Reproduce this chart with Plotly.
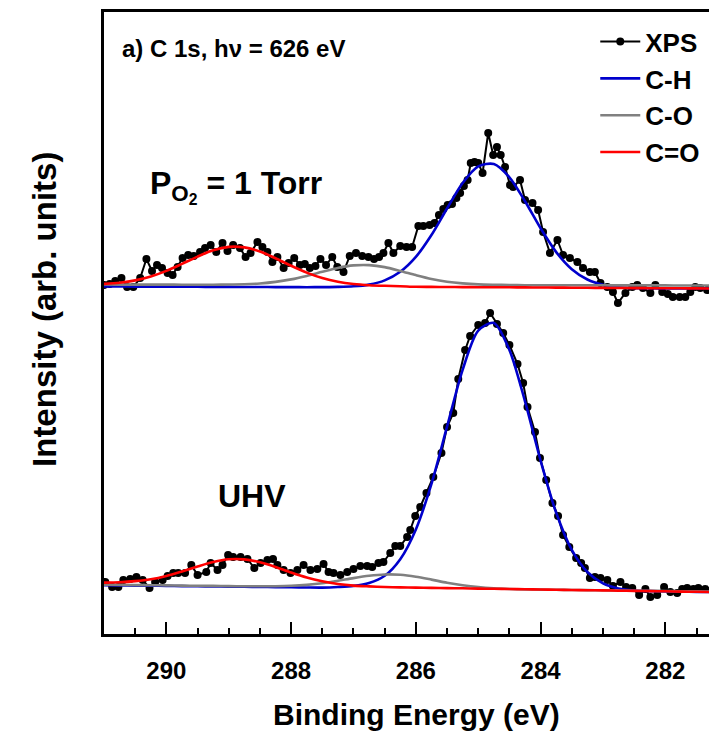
import plotly.graph_objects as go

# ---------------- data (binding energy in eV, intensity in arb. units) ----------------
upper_energy = [291.0, 290.91, 290.82, 290.72, 290.63, 290.53, 290.42, 290.32, 290.23, 290.15,
                290.07, 289.98, 289.90, 289.82, 289.74, 289.65, 289.56, 289.46, 289.38, 289.29,
                289.20, 289.10, 289.02, 288.93, 288.82, 288.73, 288.65, 288.54, 288.46, 288.38,
                288.30, 288.22, 288.12, 288.04, 287.95, 287.86, 287.78, 287.70, 287.61, 287.53,
                287.44, 287.34, 287.26, 287.16, 287.06, 286.96, 286.86, 286.76, 286.67, 286.59,
                286.52, 286.44, 286.36, 286.25, 286.15, 286.06, 285.96, 285.88, 285.78, 285.70,
                285.63, 285.56, 285.49, 285.42, 285.35, 285.29, 285.23, 285.17, 285.12, 285.06,
                285.00, 284.93, 284.84, 284.76, 284.70, 284.64, 284.57, 284.49, 284.44, 284.33,
                284.25, 284.13, 284.04, 283.96, 283.85, 283.73, 283.64, 283.53, 283.41, 283.32,
                283.21, 283.13, 283.04, 282.93, 282.84, 282.76, 282.64, 282.53, 282.45, 282.36,
                282.24, 282.16, 282.05, 281.96, 281.88, 281.77, 281.68, 281.60, 281.52, 281.44,
                281.33]
upper_intensity = [34.9, 35.0, 35.3, 35.6, 34.7, 34.7, 35.6, 37.5, 36.3, 36.9,
                   36.6, 36.1, 35.9, 36.7, 37.6, 37.9, 37.8, 38.2, 38.6, 38.9,
                   38.2, 39.1, 38.3, 38.9, 38.6, 37.7, 38.1, 39.2, 38.7, 38.2,
                   37.2, 37.7, 36.6, 37.1, 37.6, 36.9, 37.0, 36.6, 36.8, 37.5,
                   36.9, 37.7, 36.7, 36.2, 37.8, 38.1, 37.8, 37.7, 37.5, 37.7,
                   38.1, 39.1, 38.1, 38.8, 38.7, 38.7, 40.8, 40.8, 40.9, 41.1,
                   41.9, 42.5, 42.9, 43.0, 43.6, 44.1, 44.8, 45.4, 47.1, 47.2,
                   47.1, 46.1, 50.1, 47.9, 48.7, 47.9, 46.7, 44.9, 44.7, 45.4,
                   43.4, 43.1, 42.4, 40.2, 38.1, 39.4, 37.9, 37.6, 37.2, 36.6,
                   36.2, 36.2, 35.1, 34.7, 34.2, 33.1, 34.1, 34.7, 34.9, 34.6,
                   34.1, 34.9, 34.2, 34.0, 33.7, 33.7, 33.7, 34.2, 34.7, 34.6,
                   34.4]

lower_energy = [290.98, 290.87, 290.77, 290.69, 290.58, 290.48, 290.38, 290.27, 290.18, 290.06,
                289.98, 289.89, 289.81, 289.70, 289.60, 289.50, 289.36, 289.29, 289.18, 289.10,
                289.01, 288.93, 288.81, 288.70, 288.59, 288.49, 288.38, 288.29, 288.22, 288.12,
                288.01, 287.90, 287.80, 287.69, 287.58, 287.48, 287.40, 287.32, 287.21, 287.10,
                287.00, 286.89, 286.78, 286.70, 286.60, 286.52, 286.41, 286.33, 286.25, 286.14,
                286.09, 286.01, 285.93, 285.83, 285.72, 285.59, 285.50, 285.40, 285.32, 285.21,
                285.13, 285.00, 284.89, 284.81, 284.70, 284.60, 284.50, 284.37, 284.28, 284.21,
                284.09, 284.01, 283.91, 283.81, 283.72, 283.64, 283.54, 283.43, 283.35, 283.29,
                283.21, 283.13, 283.04, 282.93, 282.84, 282.72, 282.63, 282.53, 282.42, 282.32,
                282.24, 282.13, 282.02, 281.92, 281.81, 281.73, 281.65, 281.55, 281.47, 281.36]
lower_intensity = [5.2, 4.7, 4.7, 5.4, 5.5, 5.7, 5.4, 4.6, 5.2, 5.4,
                   5.8, 6.1, 6.1, 6.1, 6.9, 5.9, 6.2, 7.1, 6.4, 6.9,
                   7.9, 7.7, 7.7, 7.5, 6.6, 7.1, 7.4, 7.5, 6.9, 6.4,
                   6.1, 6.4, 6.9, 6.4, 6.5, 7.0, 6.2, 6.1, 5.9, 6.2,
                   6.5, 6.8, 6.8, 6.7, 7.1, 7.2, 8.1, 8.8, 8.8, 9.7,
                   10.4, 11.8, 12.7, 14.1, 15.7, 18.1, 20.7, 22.1, 25.5, 28.4,
                   29.8, 30.9, 31.1, 32.1, 31.0, 30.1, 28.9, 27.0, 25.1, 22.7,
                   20.2, 17.6, 15.4, 13.1, 11.8, 9.9, 8.7, 7.6, 7.1, 6.6,
                   5.6, 5.7, 5.6, 5.4, 4.8, 5.2, 4.7, 4.6, 3.9, 4.5,
                   3.7, 3.9, 4.7, 4.2, 4.1, 4.5, 4.6, 4.5, 4.6, 4.5]

fit_energy = [291.0, 290.75, 290.5, 290.25, 290.0, 289.75, 289.5, 289.25, 289.0, 288.75,
              288.5, 288.25, 288.0, 287.75, 287.5, 287.25, 287.0, 286.75, 286.5, 286.25,
              286.0, 285.75, 285.5, 285.25, 285.0, 284.75, 284.5, 284.25, 284.0, 283.75,
              283.5, 283.25, 283.0, 282.75, 282.5, 282.25, 282.0, 281.75, 281.5, 281.25]

upper_ch = [34.75, 34.75, 34.74, 34.74, 34.73, 34.72, 34.72, 34.71, 34.71, 34.70,
            34.70, 34.69, 34.69, 34.68, 34.69, 34.71, 34.77, 34.94, 35.36, 36.22,
            37.71, 39.90, 42.55, 45.10, 46.77, 47.00, 45.67, 43.28, 40.57, 38.19,
            36.48, 35.45, 34.92, 34.68, 34.59, 34.57, 34.56, 34.56, 34.55, 34.55]
upper_co = [34.95, 34.94, 34.94, 34.94, 34.94, 34.93, 34.93, 34.93, 34.95, 34.97,
            35.05, 35.21, 35.46, 35.81, 36.22, 36.61, 36.86, 36.89, 36.69, 36.31,
            35.89, 35.51, 35.23, 35.06, 34.96, 34.92, 34.90, 34.88, 34.88, 34.87,
            34.87, 34.87, 34.87, 34.86, 34.86, 34.86, 34.86, 34.85, 34.85, 34.85]
upper_cdo = [35.01, 35.13, 35.36, 35.75, 36.31, 37.01, 37.74, 38.37, 38.71, 38.66,
             38.25, 37.58, 36.83, 36.14, 35.59, 35.22, 35.00, 34.88, 34.82, 34.78,
             34.72, 34.71, 34.70, 34.69, 34.68, 34.67, 34.67, 34.66, 34.65, 34.64,
             34.63, 34.62, 34.61, 34.60, 34.59, 34.58, 34.57, 34.57, 34.56, 34.55]

lower_ch = [4.88, 4.86, 4.84, 4.83, 4.81, 4.79, 4.77, 4.76, 4.74, 4.72,
            4.70, 4.69, 4.67, 4.65, 4.64, 4.70, 4.81, 5.10, 5.82, 7.48,
            10.46, 15.01, 20.73, 26.42, 30.34, 31.11, 28.41, 23.26, 17.34, 12.12,
            8.41, 6.20, 5.06, 4.55, 4.35, 4.29, 4.25, 4.23, 4.21, 4.20]
lower_co = [4.93, 4.91, 4.89, 4.88, 4.86, 4.84, 4.82, 4.81, 4.79, 4.77,
            4.77, 4.78, 4.82, 4.91, 5.07, 5.32, 5.59, 5.82, 5.95, 5.92,
            5.73, 5.44, 5.13, 4.88, 4.69, 4.57, 4.50, 4.46, 4.44, 4.42,
            4.40, 4.39, 4.37, 4.35, 4.33, 4.32, 4.30, 4.28, 4.26, 4.25]
lower_cdo = [5.14, 5.18, 5.29, 5.48, 5.81, 6.26, 6.75, 7.20, 7.47, 7.46,
             7.18, 6.71, 6.15, 5.65, 5.27, 5.00, 4.84, 4.76, 4.70, 4.66,
             4.64, 4.61, 4.59, 4.57, 4.54, 4.52, 4.50, 4.47, 4.45, 4.43,
             4.40, 4.38, 4.36, 4.33, 4.31, 4.29, 4.27, 4.24, 4.22, 4.20]

x_ticks = [290, 288, 286, 284, 282]
x_range = [291.0, 281.3]
y_range = [0, 62.2]

FONT = "Liberation Sans, Arial, sans-serif"
BLUE = "#0000CC"
GRAY = "#808080"
RED = "#FF0000"

fig = go.Figure()

spectra = [
    (upper_energy, upper_intensity, upper_ch, upper_co, upper_cdo, True),
    (lower_energy, lower_intensity, lower_ch, lower_co, lower_cdo, False),
]
for en, inten, ch, co, cdo, show in spectra:
    fig.add_trace(go.Scatter(x=en, y=inten, mode="lines+markers", name="XPS",
                             legendgroup="xps", showlegend=show,
                             line=dict(color="black", width=2),
                             marker=dict(color="black", size=8, symbol="circle")))
    fig.add_trace(go.Scatter(x=fit_energy, y=ch, mode="lines", name="C-H",
                             legendgroup="ch", showlegend=show,
                             line=dict(color=BLUE, width=2.6, shape="spline", smoothing=0.8)))
    fig.add_trace(go.Scatter(x=fit_energy, y=co, mode="lines", name="C-O",
                             legendgroup="co", showlegend=show,
                             line=dict(color=GRAY, width=2.6, shape="spline", smoothing=0.8)))
    fig.add_trace(go.Scatter(x=fit_energy, y=cdo, mode="lines", name="C=O",
                             legendgroup="cdo", showlegend=show,
                             line=dict(color=RED, width=2.6, shape="spline", smoothing=0.8)))

fig.update_layout(
    width=709, height=731,
    margin=dict(l=104, r=0, t=12, b=97, autoexpand=False),
    paper_bgcolor="white", plot_bgcolor="white",
    font=dict(family=FONT, color="black", size=22, weight="bold"),
    showlegend=True,
    legend=dict(x=0.812, y=0.99, xanchor="left", yanchor="top",
                bgcolor="rgba(0,0,0,0)", borderwidth=0,
                font=dict(family=FONT, size=26, color="black", weight="bold"),
                traceorder="normal", itemwidth=40, tracegroupgap=0),
    xaxis=dict(range=x_range, tickvals=x_ticks, ticktext=[str(t) for t in x_ticks],
               ticks="inside", ticklen=12, tickwidth=2, tickcolor="black",
               minor=dict(dtick=0.5, tick0=290, ticks="inside", ticklen=6, tickwidth=2, tickcolor="black"),
               showline=True, linewidth=2.5, linecolor="black", mirror=True,
               showgrid=False, zeroline=False,
               ticklabelstandoff=13,
               tickfont=dict(family=FONT, size=24, weight="bold")),
    yaxis=dict(range=y_range, showticklabels=False, ticks="",
               showline=True, linewidth=2.5, linecolor="black", mirror=False,
               showgrid=False, zeroline=False),
)

# axis titles (placed to match the cropped original frame)
fig.add_annotation(xref="paper", yref="paper", x=0.516, y=-0.130, xanchor="center", yanchor="middle",
                   text="Binding Energy (eV)", showarrow=False,
                   font=dict(family=FONT, size=30, weight="bold"))
fig.add_annotation(xref="paper", yref="paper", x=-0.0975, y=0.521, xanchor="center", yanchor="middle",
                   text="Intensity (arb. units)", showarrow=False, textangle=-90,
                   font=dict(family=FONT, size=33, weight="bold"))

fig.add_annotation(xref="paper", yref="paper", x=0.027, y=0.942, xanchor="left", yanchor="middle",
                   text="a) C 1s, h\u03bd = 626 eV", showarrow=False,
                   font=dict(family=FONT, size=24, weight="bold"))
fig.add_annotation(xref="paper", yref="paper", x=0.072, y=0.72, xanchor="left", yanchor="middle",
                   text="P<sub>O<sub>2</sub></sub> = 1 Torr", showarrow=False,
                   font=dict(family=FONT, size=32, weight="bold"))
fig.add_annotation(xref="paper", yref="paper", x=0.185, y=0.222, xanchor="left", yanchor="middle",
                   text="UHV", showarrow=False,
                   font=dict(family=FONT, size=32, weight="bold"))

fig.write_html("out.html")
